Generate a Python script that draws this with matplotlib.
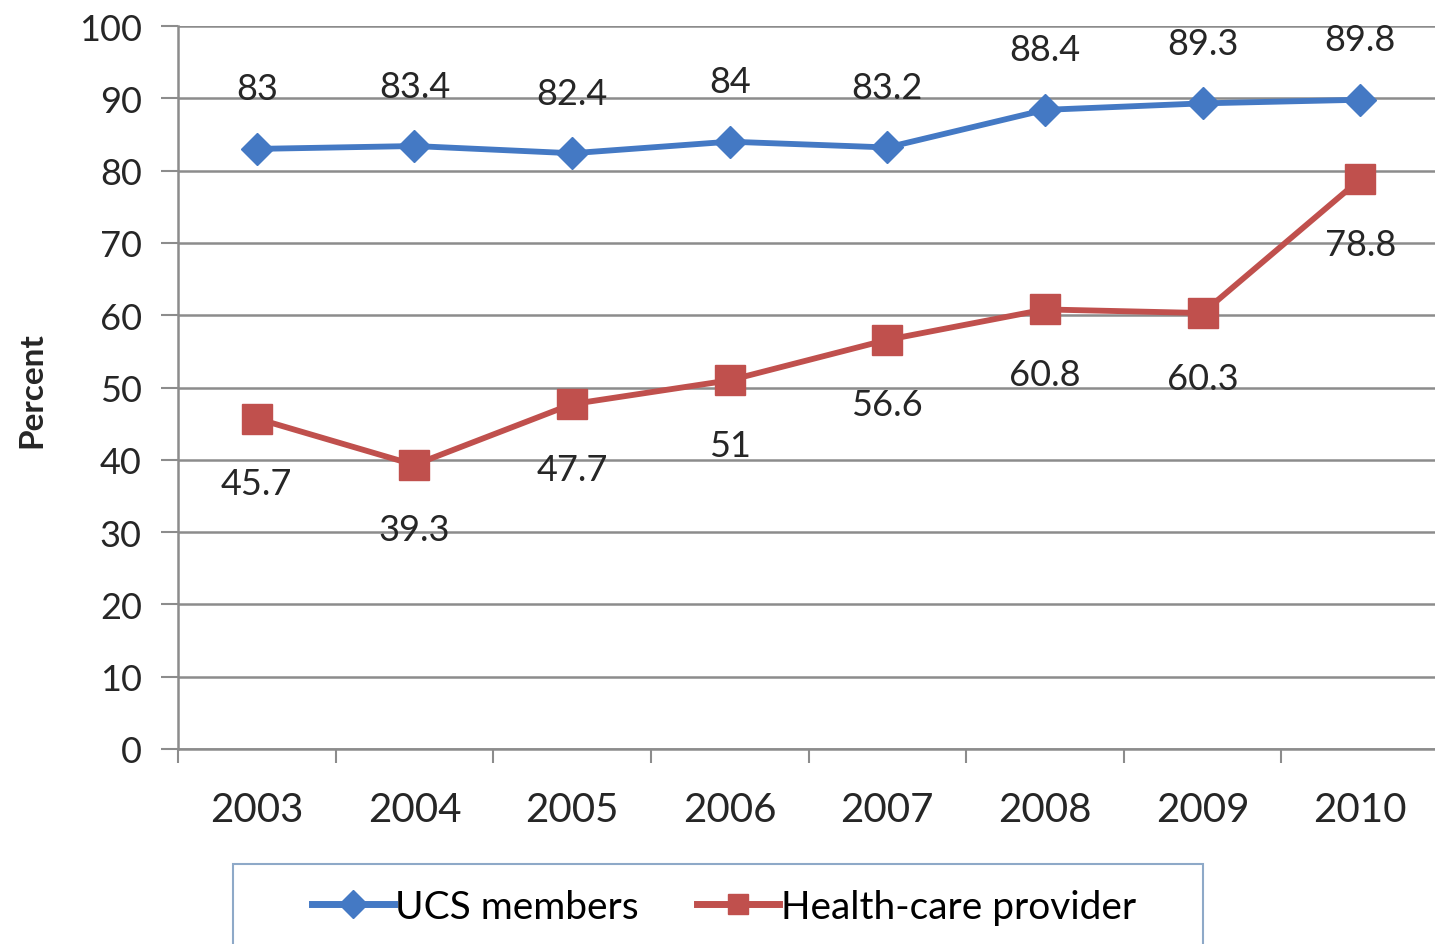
import numpy as np
import matplotlib
matplotlib.use('Agg')
import matplotlib.pyplot as plt
from matplotlib.ticker import FixedLocator
from matplotlib.patches import Rectangle

plt.rcParams['font.family'] = ['Lato', 'DejaVu Sans']

# ---- data ----
years = ['2003', '2004', '2005', '2006', '2007', '2008', '2009', '2010']
ucs_members = [83, 83.4, 82.4, 84, 83.2, 88.4, 89.3, 89.8]
health_provider = [45.7, 39.3, 47.7, 51, 56.6, 60.8, 60.3, 78.8]
ucs_labels = ['83', '83.4', '82.4', '84', '83.2', '88.4', '89.3', '89.8']
hp_labels = ['45.7', '39.3', '47.7', '51', '56.6', '60.8', '60.3', '78.8']

c_blue = '#4479C4'
c_red = '#C0504D'
c_grid = '#8C8C8C'
c_text = '#262626'

W, H = 1435, 945
fig = plt.figure(figsize=(W / 100, H / 100), dpi=100)
ax = fig.add_axes([178 / W, (H - 750) / H, (1439 - 178) / W, (750 - 27) / H])

x = np.arange(len(years))
ax.plot(x, ucs_members, color=c_blue, linewidth=4.2, marker='D', markersize=16,
        label='UCS members', zorder=4)
ax.plot(x, health_provider, color=c_red, linewidth=4.2, marker='s', markersize=22,
        label='Health-care provider', zorder=4)

for i in range(len(years)):
    ax.annotate(ucs_labels[i], (x[i], ucs_members[i]), xytext=(0, 60),
                textcoords='offset pixels', ha='center', va='center',
                fontsize=26, color=c_text)
    ax.annotate(hp_labels[i], (x[i], health_provider[i]), xytext=(0, -65),
                textcoords='offset pixels', ha='center', va='center',
                fontsize=26, color=c_text)

ax.set_xlim(-0.5, len(years) - 0.5)
ax.set_ylim(0, 100)
ax.set_yticks(np.arange(0, 101, 10))
ax.set_xticks(x)
ax.set_xticklabels(years, fontsize=29, color=c_text)
ax.xaxis.set_minor_locator(FixedLocator(np.arange(-0.5, len(years), 1)))
ax.tick_params(axis='x', which='major', length=0, pad=30)
ax.tick_params(axis='x', which='minor', length=10, width=1.5, color=c_grid)
ax.tick_params(axis='y', length=12, width=1.5, color=c_grid, labelsize=26,
               labelcolor=c_text, pad=14)

ax.grid(axis='y', color=c_grid, linewidth=1.8)
ax.set_axisbelow(True)
for s in ['top', 'right']:
    ax.spines[s].set_visible(False)
for s in ['left', 'bottom']:
    ax.spines[s].set_color(c_grid)
    ax.spines[s].set_linewidth(1.8)

fig.text(32 / W, 1 - 390 / H, 'Percent', rotation=90, fontsize=24, fontweight='bold',
         ha='center', va='center', color=c_text)

# legend box (frame drawn separately so its edges match)
fig.patches.append(Rectangle((233 / W, -0.01), (1203 - 233) / W, 0.01 + (H - 865) / H,
                             transform=fig.transFigure, facecolor='white',
                             edgecolor='#8EA9C8', linewidth=1.5, zorder=0))
leg = fig.legend(loc='center', bbox_to_anchor=(724 / W, 1 - 908 / H),
                 ncol=2, fontsize=28, frameon=False, handlelength=2.1,
                 handletextpad=0.05, columnspacing=1.5, borderaxespad=0)
for h in leg.legend_handles:
    h.set_markersize(14)
    h.set_linewidth(5)

fig.savefig('out.png', dpi=100)
